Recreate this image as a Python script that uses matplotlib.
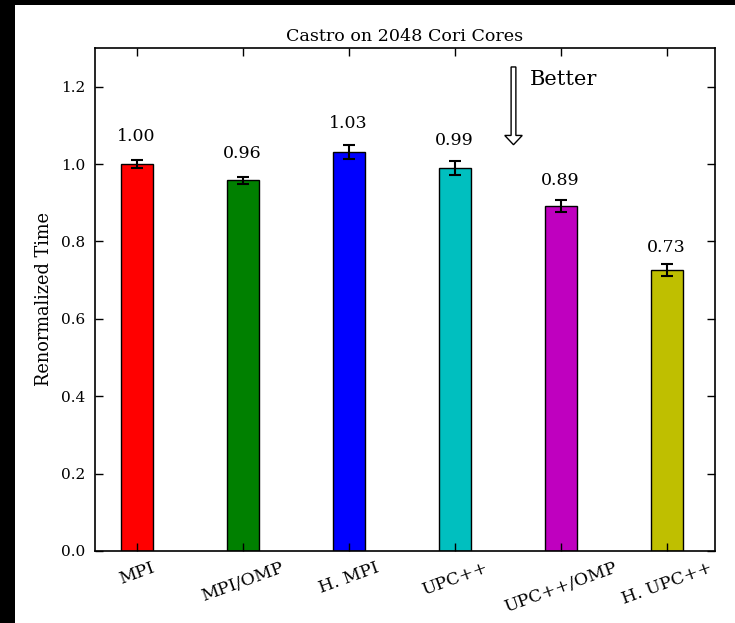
import matplotlib
matplotlib.use('Agg')
import matplotlib.pyplot as plt
from matplotlib.patches import Rectangle
import numpy as np

plt.rcParams.update({'font.family': 'DejaVu Serif', 'font.size': 11})

versions = ['MPI', 'MPI/OMP', 'H. MPI', 'UPC++', 'UPC++/OMP', 'H. UPC++']
times = [1.00, 0.958, 1.031, 0.989, 0.892, 0.726]
errors = [0.010, 0.009, 0.018, 0.018, 0.016, 0.015]
value_labels = ['1.00', '0.96', '1.03', '0.99', '0.89', '0.73']
colors = ['r', 'g', 'b', 'c', 'm', 'y']

fig = plt.figure(figsize=(7.35, 6.23), dpi=100)
fig.patch.set_facecolor('black')
# white page with a black strip on the left and top, as in the screenshot
fig.patches.append(Rectangle((15/735, 0), 1 - 15/735, 618/623, transform=fig.transFigure,
                             facecolor='white', edgecolor='none', zorder=-1))
ax = fig.add_axes([95/735, 72/623, 620/735, 503/623])

ind = np.arange(len(versions))
width = 0.3
ax.bar(ind, times, width, color=colors, edgecolor='black', linewidth=1)
ax.errorbar(ind, times, yerr=errors, fmt='none', ecolor='black', elinewidth=1.5,
            capsize=4.5, capthick=1.5)

for i, t in enumerate(times):
    ax.text(ind[i], 1.05*t, value_labels[i], ha='center', va='bottom', fontsize=12.5)

# "lower is better" arrow
ax.arrow(3.555, 1.251, 0, -0.201, width=0.045, head_width=0.165, head_length=0.024,
         length_includes_head=True, facecolor='white', edgecolor='black', linewidth=1)
ax.text(3.71, 1.218, 'Better', ha='left', va='center', fontsize=15)

ax.set_xlim(-0.393, 5.456)
ax.set_ylim(0, 1.3)
ax.set_yticks(np.arange(0, 1.21, 0.2))
ax.set_xticks(ind)
ax.set_xticklabels(versions, rotation=20, ha='center', fontsize=12.5)
ax.tick_params(direction='in', top=True, right=True, length=5.5, width=1)
ax.tick_params(axis='y', pad=7, labelsize=11)
ax.tick_params(axis='x', pad=6)
for s in ax.spines.values():
    s.set_linewidth(1.2)
ax.set_ylabel('Renormalized Time', fontsize=12.8, labelpad=6)
ax.set_title('Castro on 2048 Cori Cores', fontsize=12.6, pad=5)

fig.savefig('out.png', dpi=100, facecolor=fig.get_facecolor())
